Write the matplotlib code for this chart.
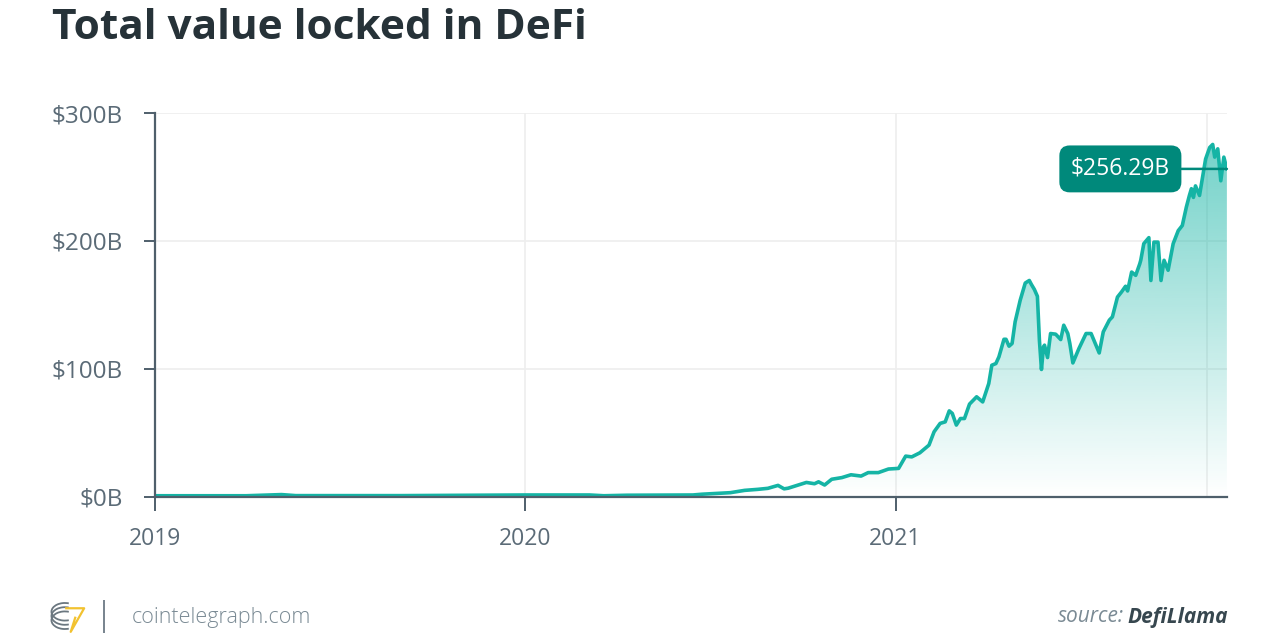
import numpy as np
import pandas as pd
import matplotlib
matplotlib.use("Agg")
import matplotlib.pyplot as plt
import matplotlib.dates as mdates
from matplotlib.patches import Arc, Rectangle

# DeFi TVL, billions of USD
dates = [
    "2019-01-01", "2019-04-01", "2019-05-06", "2019-05-20", "2019-09-01",
    "2019-11-12", "2020-01-01", "2020-03-05", "2020-03-19", "2020-04-11",
    "2020-06-15", "2020-06-24", "2020-07-22", "2020-08-05", "2020-08-18",
    "2020-08-28", "2020-09-07", "2020-09-13", "2020-09-17", "2020-09-27",
    "2020-10-05", "2020-10-13", "2020-10-17", "2020-10-23", "2020-10-30",
    "2020-11-09", "2020-11-18", "2020-11-28", "2020-12-05", "2020-12-15",
    "2020-12-25", "2021-01-04", "2021-01-11", "2021-01-17", "2021-01-25",
    "2021-02-03", "2021-02-08", "2021-02-14", "2021-02-19", "2021-02-23",
    "2021-02-26", "2021-03-02", "2021-03-06", "2021-03-10", "2021-03-15",
    "2021-03-22", "2021-03-28", "2021-04-03", "2021-04-06", "2021-04-10",
    "2021-04-13", "2021-04-18", "2021-04-20", "2021-04-23", "2021-04-26",
    "2021-04-29", "2021-05-04", "2021-05-09", "2021-05-13", "2021-05-15",
    "2021-05-18", "2021-05-21", "2021-05-23", "2021-05-25", "2021-05-27",
    "2021-05-28", "2021-05-31", "2021-06-03", "2021-06-08", "2021-06-13",
    "2021-06-16", "2021-06-20", "2021-06-22", "2021-06-25", "2021-07-01",
    "2021-07-08", "2021-07-13", "2021-07-21", "2021-07-25", "2021-07-31",
    "2021-08-03", "2021-08-08", "2021-08-12", "2021-08-16", "2021-08-18",
    "2021-08-22", "2021-08-26", "2021-08-30", "2021-08-31", "2021-09-03",
    "2021-09-08", "2021-09-10", "2021-09-13", "2021-09-17", "2021-09-20",
    "2021-09-23", "2021-09-27", "2021-10-02", "2021-10-07", "2021-10-11",
    "2021-10-15", "2021-10-18", "2021-10-20", "2021-10-22", "2021-10-24",
    "2021-10-28", "2021-10-31", "2021-11-03", "2021-11-07", "2021-11-10",
    "2021-11-12", "2021-11-15", "2021-11-18", "2021-11-21", "2021-11-24",
]
tvl = [
    0.6, 0.6, 1.5, 0.7, 0.7,
    1.0, 1.2, 1.2, 0.6, 1.0,
    1.2, 1.8, 3.0, 4.8, 5.6,
    6.4, 8.7, 6.0, 6.5, 9.0,
    11.0, 10.0, 11.5, 9.0, 13.5,
    14.8, 17.0, 16.0, 18.7, 18.7,
    21.5, 22.0, 31.6, 31.0, 34.2,
    40.2, 50.6, 57.2, 58.4, 67.0,
    65.0, 55.9, 61.0, 61.0, 72.3,
    78.0, 74.0, 88.4, 102.7, 104.0,
    109.2, 123.0, 123.0, 117.6, 119.7,
    136.6, 153.5, 167.0, 169.0, 166.0,
    162.0, 156.6, 122.0, 99.4, 117.0,
    118.4, 108.7, 127.5, 127.0, 122.8,
    134.0, 127.5, 119.7, 104.5, 115.8,
    127.5, 127.5, 112.3, 128.8, 138.0,
    140.5, 156.0, 160.0, 164.5, 160.8,
    175.6, 173.0, 182.0, 184.8, 197.8,
    202.5, 169.0, 199.0, 199.0, 169.0,
    184.8, 177.0, 197.8, 208.0, 212.0,
    226.4, 235.5, 240.8, 234.0, 243.0,
    235.5, 249.8, 264.0, 273.0, 275.4,
    265.5, 272.0, 247.0, 265.5, 256.29,
]
y_ticks = [0, 100, 200, 300]
y_labels = ["$0B", "$100B", "$200B", "$300B"]
x_ticks = ["2019-01-01", "2020-01-01", "2021-01-01"]
x_labels = ["2019", "2020", "2021"]
extra_grid = "2021-11-04"
last_label = "$256.29B"

TEAL = "#15b4a5"
DARK_TEAL = "#00897b"
AXIS = "#4f5f6b"
GRID = "#eeeeee"
TEXT = "#5b6b77"

plt.rcParams["font.family"] = ["Open Sans", "DejaVu Sans"]

x = pd.to_datetime(dates)
fig = plt.figure(figsize=(12.8, 6.4), dpi=100)
ax = fig.add_axes([0.121, 0.2242, 0.8375, 0.5992])

x_min, x_max = x[0], x[-1]
ax.set_xlim(x_min, x_max)
ax.set_ylim(0, 300)

# grid
for v in y_ticks[1:]:
    ax.axhline(v, color=GRID, lw=1.2, zorder=0)
for d in x_ticks[1:] + [extra_grid]:
    ax.axvline(pd.Timestamp(d), color=GRID, lw=1.2, zorder=0)

# gradient fill under the curve
fill = ax.fill_between(x, tvl, 0, color="none", lw=0)
clip = fill.get_paths()[0]
grad = np.zeros((256, 1, 4))
grad[..., :3] = matplotlib.colors.to_rgb(TEAL)
grad[:, 0, 3] = np.linspace(0.65, 0.0, 256)
im = ax.imshow(grad, aspect="auto", origin="upper", zorder=1,
               extent=[mdates.date2num(x_min), mdates.date2num(x_max), 0, 300])
im.set_clip_path(clip, transform=ax.transData)

ax.plot(x, tvl, color=TEAL, lw=2.6, zorder=3, solid_joinstyle="round")

# end value label
ax.annotate(last_label, xy=(x[-1], tvl[-1]), xytext=(-41, 0),
            textcoords="offset points", ha="right", va="center",
            color="white", fontsize=16.5, zorder=5,
            bbox=dict(boxstyle="round,pad=0.5,rounding_size=0.45",
                      fc=DARK_TEAL, ec="none"),
            arrowprops=dict(arrowstyle="-", color=DARK_TEAL, lw=1.8,
                            shrinkA=0, shrinkB=0))

# axes styling
for s in ["top", "right"]:
    ax.spines[s].set_visible(False)
for s in ["left", "bottom"]:
    ax.spines[s].set_color(AXIS)
    ax.spines[s].set_linewidth(1.6)
    ax.spines[s].set_zorder(4)
ax.set_yticks(y_ticks)
ax.set_yticklabels(y_labels)
ax.set_xticks(pd.to_datetime(x_ticks))
ax.set_xticklabels(x_labels)
ax.tick_params(axis="y", length=8, width=1.4, color=AXIS, labelcolor=TEXT,
               labelsize=17.5, pad=15)
ax.tick_params(axis="x", length=10, width=1.4, color=AXIS, labelcolor=TEXT,
               labelsize=16.5, pad=12)

# title
fig.text(0.0406, 0.988, "Total value locked in DeFi", fontsize=30.5,
         fontweight="bold", color="#263238", ha="left", va="top")

# footer
fy = 1 - 617 / 640
logo = fig.add_axes([0.036, 0.01, 0.035, 0.055])
logo.set_xlim(0, 1)
logo.set_ylim(0, 1)
logo.axis("off")
for cy in [0.38, 0.5, 0.62]:
    logo.add_patch(Arc((0.42, cy), 0.6, 0.5, theta1=70, theta2=290,
                       color="#6b7780", lw=1.3))
logo.plot([0.45, 0.85, 0.55, 0.65], [0.72, 0.72, 0.05, 0.45],
          color="#f2c230", lw=1.6)
fig.add_artist(Rectangle((103 / 1280, 1 - 633 / 640), 1.5 / 1280, 33 / 640,
                         transform=fig.transFigure, color="#7a8690", lw=0))
fig.text(132 / 1280, fy, "cointelegraph.com", fontsize=15.5, color="#7a8a94",
         ha="left", va="center", fontweight="light")
src = fig.text(1228 / 1280, fy, "DefiLlama", fontsize=15, color="#37474f",
               ha="right", va="center", fontweight="bold", style="italic")
fig.canvas.draw()
bb = src.get_window_extent()
fig.text(bb.x0 / 1280 - 0.003, fy, "source:", fontsize=15, color="#7a8a94",
         ha="right", va="center", style="italic")

fig.savefig("out.png", dpi=100, facecolor="white")
